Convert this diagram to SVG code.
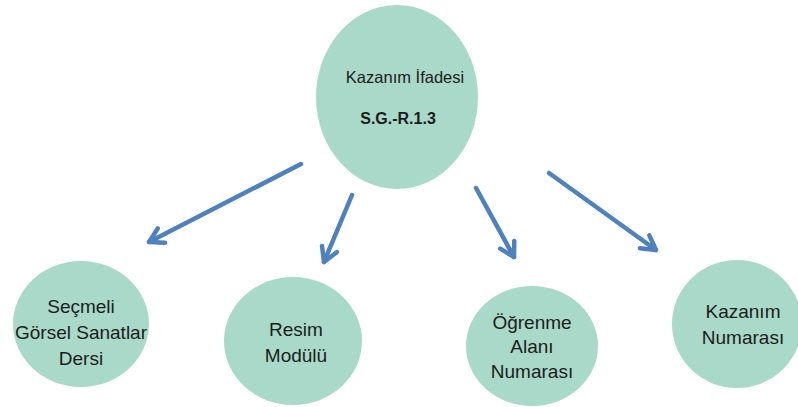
<svg xmlns="http://www.w3.org/2000/svg" width="798" height="407" viewBox="0 0 798 407">
<style>
.node{fill:#A9D9C9;}
.t{font-family:"Liberation Sans",Arial,sans-serif;font-size:19px;fill:#1c1c1c;text-anchor:middle;}
.m{font-size:16.5px;}
.b{font-weight:bold;font-size:16px;}
.c{fill:none;stroke:#4F81BD;stroke-width:4.5;stroke-linecap:round;marker-end:url(#ah);}
</style>
<defs>
<marker id="ah" markerUnits="userSpaceOnUse" viewBox="-18 -12 21 24" refX="0" refY="0" markerWidth="21" markerHeight="24" orient="auto">
<path d="M-14,-8 L0,0 L-14,8" fill="none" stroke="#4F81BD" stroke-width="4.5" stroke-linecap="round" stroke-linejoin="round"/>
</marker>
</defs>
<g id="n-center">
<ellipse class="node" cx="397" cy="97" rx="81" ry="92"/>
<text class="t m" x="405" y="83">Kazanım İfadesi</text>
<text class="t b" x="398" y="124">S.G.-R.1.3</text>
</g>
<g id="n-secmeli">
<ellipse class="node" cx="81" cy="324" rx="68" ry="63"/>
<text class="t" x="81" y="313">Seçmeli</text>
<text class="t" x="81" y="339">Görsel Sanatlar</text>
<text class="t" x="81" y="365">Dersi</text>
</g>
<g id="n-resim">
<ellipse class="node" cx="293" cy="341" rx="69" ry="64"/>
<text class="t" x="296" y="336">Resim</text>
<text class="t" x="296" y="362">Modülü</text>
</g>
<g id="n-ogrenme">
<ellipse class="node" cx="532" cy="346" rx="66" ry="60"/>
<text class="t" x="532" y="329">Öğrenme</text>
<text class="t" x="532" y="353">Alanı</text>
<text class="t" x="532" y="378">Numarası</text>
</g>
<g id="n-kazanim">
<ellipse class="node" cx="737" cy="324" rx="65" ry="64"/>
<text class="t" x="743" y="318">Kazanım</text>
<text class="t" x="743" y="344">Numarası</text>
</g>
<g id="connectors">
<line class="c" x1="301" y1="164" x2="149" y2="242"/>
<line class="c" x1="352" y1="195" x2="324" y2="262"/>
<line class="c" x1="476" y1="188" x2="514" y2="257"/>
<line class="c" x1="549" y1="173" x2="656" y2="250"/>
</g>
</svg>
